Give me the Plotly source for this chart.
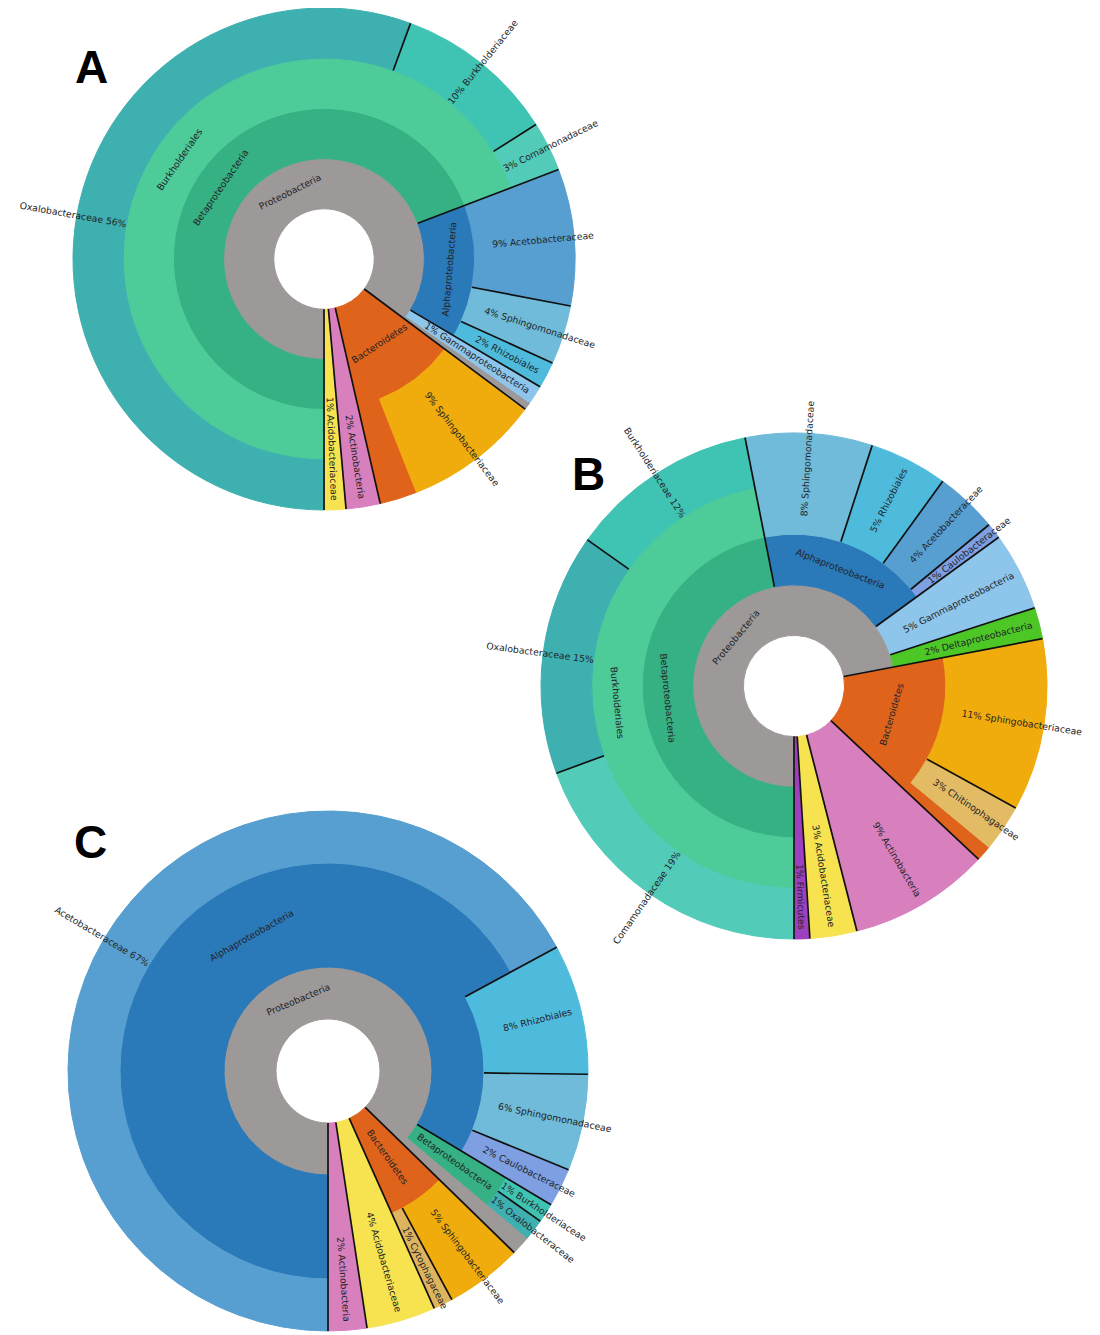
import math
import plotly.graph_objects as go

# ---------------- data ----------------
# Krona-style taxon paths for each sample, listed clockwise from 6 o'clock,
# with relative abundance (%).  "~" = rank collapsed into the parent's wedge;
# a path that ends on an inner taxon is that taxon's unassigned remainder.
a_taxa = [
    "Proteobacteria/Betaproteobacteria/Burkholderiales/Oxalobacteraceae",
    "Proteobacteria/Betaproteobacteria/Burkholderiales/Burkholderiaceae",
    "Proteobacteria/Betaproteobacteria/Burkholderiales/Comamonadaceae",
    "Proteobacteria/Alphaproteobacteria/Acetobacteraceae",
    "Proteobacteria/Alphaproteobacteria/Sphingomonadaceae",
    "Proteobacteria/Alphaproteobacteria/Rhizobiales",
    "Proteobacteria/Gammaproteobacteria",
    "Proteobacteria",
    "Bacteroidetes/~/Sphingobacteriaceae",
    "Bacteroidetes",
    "Actinobacteria",
    "Acidobacteriaceae",
]
a_values = [55.6, 10.4, 3.2, 8.8, 3.8, 1.7, 1.2, 0.5, 8.8, 2.4, 2.2, 1.4]

b_taxa = [
    "Proteobacteria/Betaproteobacteria/Burkholderiales/Comamonadaceae",
    "Proteobacteria/Betaproteobacteria/Burkholderiales/Oxalobacteraceae",
    "Proteobacteria/Betaproteobacteria/Burkholderiales/Burkholderiaceae",
    "Proteobacteria/Alphaproteobacteria/Sphingomonadaceae",
    "Proteobacteria/Alphaproteobacteria/Rhizobiales",
    "Proteobacteria/Alphaproteobacteria/Acetobacteraceae",
    "Proteobacteria/Alphaproteobacteria/Caulobacteraceae",
    "Proteobacteria/Gammaproteobacteria",
    "Proteobacteria/Deltaproteobacteria",
    "Bacteroidetes/~/Sphingobacteriaceae",
    "Bacteroidetes/~/Chitinophagaceae",
    "Bacteroidetes",
    "Actinobacteria",
    "Acidobacteriaceae",
    "Firmicutes",
]
b_values = [19.4, 15.4, 12.1, 8.1, 5.0, 4.0, 1.0, 5.0, 2.0, 11.0, 3.0, 1.0, 9.0, 3.0, 1.0]

c_taxa = [
    "Proteobacteria/Alphaproteobacteria/~/Acetobacteraceae",
    "Proteobacteria/Alphaproteobacteria/Rhizobiales",
    "Proteobacteria/Alphaproteobacteria/Sphingomonadaceae",
    "Proteobacteria/Alphaproteobacteria/Caulobacteraceae",
    "Proteobacteria/Betaproteobacteria/~/Burkholderiaceae",
    "Proteobacteria/Betaproteobacteria/~/Oxalobacteraceae",
    "Proteobacteria",
    "Bacteroidetes/~/Sphingobacteriaceae",
    "Bacteroidetes/~/Cytophagaceae",
    "Acidobacteriaceae",
    "Actinobacteria",
]
c_values = [67.1, 8.1, 6.0, 2.4, 1.2, 1.3, 1.2, 4.8, 1.2, 4.3, 2.4]

panel_letters = ["A", "B", "C"]

# ---------------- styles / layout ----------------
TAXON_COLORS = {
    "Proteobacteria": "#9d9999",
    "Betaproteobacteria": "#36b184",
    "Burkholderiales": "#4dcb98",
    "Oxalobacteraceae": "#3eb0b0",
    "Burkholderiaceae": "#3fc4b3",
    "Comamonadaceae": "#52cbb9",
    "Alphaproteobacteria": "#2a79b9",
    "Acetobacteraceae": "#579fd0",
    "Sphingomonadaceae": "#6fbbd9",
    "Rhizobiales": "#4ebbdc",
    "Caulobacteraceae": "#7e9fe2",
    "Gammaproteobacteria": "#8ec5ea",
    "Deltaproteobacteria": "#4cc726",
    "Bacteroidetes": "#e0631b",
    "Sphingobacteriaceae": "#f0ab0c",
    "Chitinophagaceae": "#e2bb64",
    "Cytophagaceae": "#deb45e",
    "Actinobacteria": "#d87fbd",
    "Acidobacteriaceae": "#f6e34f",
    "Firmicutes": "#9e3fc0",
}
FONT = "DejaVu Sans, Verdana, sans-serif"
LETTER_FONT = "Liberation Sans, Arial, sans-serif"
TEXT_COLOR = "#222428"
LABEL_SIZE = 9.3
MAXD = 4                  # deepest ring (family level)
W, H = 1100, 1335
OFF = 8                   # page margin of the browser around the plot div
# wheel centre x, centre y, outer radius (page pixels)
wheels = [(324, 259, 251), (794, 686, 253), (328, 1071, 260)]
letter_xy = [(91, 67), (588, 474), (90, 842)]


def to_paper(x, y):
    return (x - OFF) / W, 1 - (y - OFF) / H


def clamp(v):
    return min(1.0, max(0.0, v))


def polar(cx, cy, r, phi):
    """phi: degrees clockwise from 6 o'clock."""
    t = math.radians(phi)
    return to_paper(cx - r * math.sin(t), cy + r * math.cos(t))


def norm_angle(a):
    while a > 90:
        a -= 180
    while a <= -90:
        a += 180
    return a


def radial_angle(phi):
    t = math.radians(phi)
    return norm_angle(math.degrees(math.atan2(math.cos(t), -math.sin(t))))


def text_len(s, fs):
    w = 0.0
    for ch in s:
        if ch in "il":
            w += 0.28
        elif ch in "frtj":
            w += 0.39
        elif ch == " ":
            w += 0.32
        elif ch == "%":
            w += 0.95
        elif ch.isdigit():
            w += 0.64
        elif ch == "m":
            w += 0.97
        elif ch == "w":
            w += 0.82
        elif ch.isupper():
            w += 0.7
        else:
            w += 0.61
    return w * fs


def build(taxa, values):
    total = float(sum(values))
    inner = set()
    for t in taxa:
        parts = t.split("/")
        for k in range(1, len(parts)):
            inner.add("/".join(parts[:k]))
    ids, labels, parents, vals, cols = [], [], [], [], []
    index = {}

    def add(i, lab, par, col):
        index[i] = len(ids)
        ids.append(i); labels.append(lab); parents.append(par)
        vals.append(0.0); cols.append(col)

    add("root", "", "", "white")
    leaves = []
    span = {}
    cum = 0.0
    for t, v in zip(taxa, values):
        parts = t.split("/")
        for k in range(1, len(parts) + 1):
            key = "/".join(parts[:k])
            a0, a1 = span.get(key, (cum, cum))
            span[key] = (min(a0, cum), max(a1, cum + v))
            if key in index:
                continue
            name = parts[k - 1]
            par = "/".join(parts[:k - 1]) or "root"
            col = cols[index[par]] if name == "~" else TAXON_COLORS[name]
            add(key, "" if name == "~" else name, par, col)
        rest = t in inner
        if rest:                       # unassigned remainder of an inner taxon
            start = t + "/_"
            add(start, "", t, cols[index[t]])
            disp = parts + ["_"]
        else:
            start = t
            disp = parts
        node, depth = start, len(disp)
        while depth < MAXD:            # Krona wedges reach the outer edge
            child = node + "/_"
            add(child, "", node, cols[index[node]])
            node, depth = child, depth + 1
        vals[index[node]] = v
        leaves.append(dict(name=None if rest else parts[-1], v=v, c0=cum,
                           disp=disp, rest=rest))
        cum += v

    inner_nodes = []
    for key in inner:
        name = key.split("/")[-1]
        if name == "~":
            continue
        depth = len(key.split("/"))
        extra = 1 if (key + "/~") in index else 0
        a0, a1 = span[key]
        inner_nodes.append(dict(name=name, depth=depth, extra=extra,
                                c0=a0, c1=a1))

    # plotly lays siblings out counterclockwise: reverse to get Krona's clockwise order
    order = list(range(len(ids)))[::-1]
    pick = lambda arr: [arr[i] for i in order]
    return dict(ids=pick(ids), labels=pick(labels), parents=pick(parents),
                values=pick(vals), colors=pick(cols), total=total,
                leaves=leaves, inner=inner_nodes)


fig = go.Figure()
annotations, shapes = [], []
for taxa, values, (cx, cy, R) in zip([a_taxa, b_taxa, c_taxa],
                                     [a_values, b_values, c_values], wheels):
    d = build(taxa, values)
    total = d["total"]
    u = R / (MAXD + 1)
    x0, y1 = to_paper(cx - R, cy - R)
    x1, y0 = to_paper(cx + R, cy + R)
    fig.add_trace(go.Sunburst(
        ids=d["ids"], labels=d["labels"], parents=d["parents"], values=d["values"],
        branchvalues="remainder", sort=False, rotation=-90,
        domain=dict(x=[clamp(x0), clamp(x1)], y=[clamp(y0), clamp(y1)]),
        textinfo="none", leaf=dict(opacity=1),
        marker=dict(colors=d["colors"], line=dict(color=d["colors"], width=1)),
        hoverinfo="label+percent root"))

    # leaf labels: radial, percentage at the inner end
    for lf in d["leaves"]:
        if lf["name"] is None:
            continue
        phi = (lf["c0"] + lf["v"] / 2) / total * 360
        pct = f"{round(lf['v']):d}%"
        txt = f"{lf['name']} {pct}" if phi < 180 else f"{pct} {lf['name']}"
        L = text_len(txt, LABEL_SIZE)
        r_in = len(lf["disp"]) * u
        r_start = max(R - 8 - L, min(r_in + 18, 0.8 * R))
        px, py = polar(cx, cy, r_start + L / 2, phi)
        annotations.append(dict(x=px, y=py, xref="paper", yref="paper", text=txt,
                                textangle=radial_angle(phi), showarrow=False,
                                xanchor="center", yanchor="middle",
                                font=dict(family=FONT, size=LABEL_SIZE, color=TEXT_COLOR)))

    # labels of inner ranks: wide wedges tangential, narrow ones radial
    for nd in d["inner"]:
        phi = (nd["c0"] + nd["c1"]) / 2 / total * 360
        r_mid = (nd["depth"] + (1 + nd["extra"]) / 2) * u
        ang = radial_angle(phi)
        if (nd["c1"] - nd["c0"]) / total >= 0.08:
            ang = norm_angle(ang + 90)
        px, py = polar(cx, cy, r_mid, phi)
        annotations.append(dict(x=px, y=py, xref="paper", yref="paper", text=nd["name"],
                                textangle=ang, showarrow=False,
                                xanchor="center", yanchor="middle",
                                font=dict(family=FONT, size=LABEL_SIZE, color=TEXT_COLOR)))

    # dark separators between neighbouring wedges
    lv = d["leaves"]
    for i in range(len(lv)):
        a, b = lv[i - 1], lv[i]
        k = 1
        while k <= min(len(a["disp"]), len(b["disp"])) and a["disp"][k - 1] == b["disp"][k - 1]:
            k += 1
        if (a["rest"] and k == len(a["disp"])) or (b["rest"] and k == len(b["disp"])):
            continue
        phi = b["c0"] / total * 360
        xa, ya = polar(cx, cy, k * u, phi)
        xb, yb = polar(cx, cy, R, phi)
        shapes.append(dict(type="line", xref="paper", yref="paper",
                           x0=xa, y0=ya, x1=xb, y1=yb,
                           line=dict(color="#111111", width=1.7)))

for letter, (lx, ly) in zip(panel_letters, letter_xy):
    px, py = to_paper(lx, ly)
    annotations.append(dict(x=px, y=py, xref="paper", yref="paper", text=f"<b>{letter}</b>",
                            showarrow=False, xanchor="center", yanchor="middle",
                            font=dict(family=LETTER_FONT, size=46, color="black")))

fig.update_layout(width=W, height=H, autosize=False,
                  margin=dict(l=0, r=0, t=0, b=0),
                  paper_bgcolor="white", plot_bgcolor="white",
                  annotations=annotations, shapes=shapes,
                  showlegend=False)
fig.write_html("out.html")
